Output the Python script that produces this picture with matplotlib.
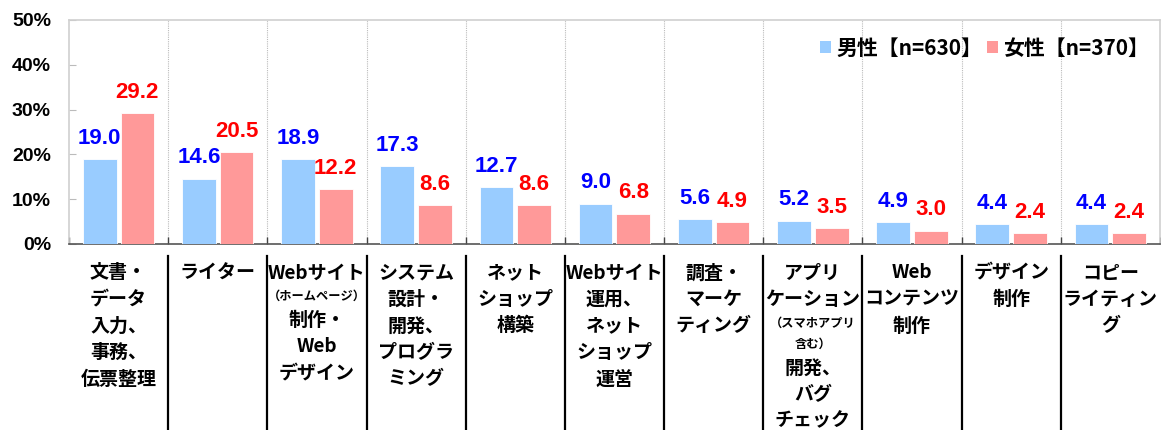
import numpy as np
import matplotlib
matplotlib.use("Agg")
import matplotlib.pyplot as plt
import matplotlib.transforms as mtransforms
from matplotlib.patches import Patch

plt.rcParams['font.family'] = ['Noto Sans CJK JP', 'DejaVu Sans']
plt.rcParams['font.weight'] = 'bold'

# category labels: each line is (text, small?)
categories = [
    [("文書・", 0), ("データ", 0), ("入力、", 0), ("事務、", 0), ("伝票整理", 0)],
    [("ライター", 0)],
    [("Webサイト", 0), ("（ホームページ）", 1), ("制作・", 0), ("Web", 0), ("デザイン", 0)],
    [("システム", 0), ("設計・", 0), ("開発、", 0), ("プログラ", 0), ("ミング", 0)],
    [("ネット", 0), ("ショップ", 0), ("構築", 0)],
    [("Webサイト", 0), ("運用、", 0), ("ネット", 0), ("ショップ", 0), ("運営", 0)],
    [("調査・", 0), ("マーケ", 0), ("ティング", 0)],
    [("アプリ", 0), ("ケーション", 0), ("（スマホアプリ", 1), ("含む）", 1),
     ("開発、", 0), ("バグ", 0), ("チェック", 0)],
    [("Web", 0), ("コンテンツ", 0), ("制作", 0)],
    [("デザイン", 0), ("制作", 0)],
    [("コピー", 0), ("ライティン", 0), ("グ", 0)],
]
male = [19.0, 14.6, 18.9, 17.3, 12.7, 9.0, 5.6, 5.2, 4.9, 4.4, 4.4]
female = [29.2, 20.5, 12.2, 8.6, 8.6, 6.8, 4.9, 3.5, 3.0, 2.4, 2.4]
male_label = "男性【n=630】"
female_label = "女性【n=370】"
yticks = [0, 10, 20, 30, 40, 50]

c_male, c_female = '#99CCFF', '#FF9999'
num_font = 'Liberation Sans'

fig = plt.figure(figsize=(11.61, 4.30), dpi=100)
ax = fig.add_axes([0.0594, 0.4326, 0.9397, 0.5209])

n = len(male)
x = np.arange(n)
w = 0.34
ax.bar(x - 0.19, male, w, color=c_male, edgecolor='white', linewidth=0.6, zorder=3)
ax.bar(x + 0.19, female, w, color=c_female, edgecolor='white', linewidth=0.6, zorder=3)

for i in range(n):
    ax.annotate(f"{male[i]:.1f}", (x[i] - 0.19, male[i]), xytext=(0, 11),
                textcoords='offset points', ha='center', va='baseline',
                color='#0000FF', fontsize=16, fontweight='bold', family=num_font)
    ax.annotate(f"{female[i]:.1f}", (x[i] + 0.19, female[i]), xytext=(0, 11),
                textcoords='offset points', ha='center', va='baseline',
                color='#FF0000', fontsize=16, fontweight='bold', family=num_font)

ax.set_xlim(-0.5, n - 0.5)
ax.set_ylim(0, 50)
ax.set_yticks(yticks)
ax.set_yticklabels([f"{t}%" for t in yticks], fontsize=14, fontweight='bold', family=num_font)
ax.tick_params(axis='y', direction='in', length=5, color='#BBBBBB', pad=13)
ax.set_xticks(np.arange(n + 1) - 0.5)
ax.set_xticklabels([])
ax.tick_params(axis='x', direction='in', length=5, color='#444444', width=1)

for s in ['top', 'right', 'left']:
    ax.spines[s].set_color('#D0D0D0')
    ax.spines[s].set_linewidth(1.2)
ax.spines['bottom'].set_color('#555555')
ax.spines['bottom'].set_linewidth(1.2)

for b in np.arange(1, n) - 0.5:
    ax.axvline(b, color='#BBBBBB', linestyle=(0, (1, 1)), linewidth=0.8, zorder=1)

# separators and labels below the axis
trans = mtransforms.blended_transform_factory(ax.transData, ax.transAxes)
for b in np.arange(1, n) - 0.5:
    ax.plot([b, b], [-0.054, -0.84], transform=trans, color='black',
            linewidth=1.6, clip_on=False)

h_norm, h_small = 26.5, 21
for i, lines in enumerate(categories):
    y = -29
    prev = None
    for text, small in lines:
        h = h_small if small else h_norm
        if prev is not None:
            y -= (prev + h) / 2
        ax.annotate(text, (i, 0), xycoords=trans, xytext=(0, y * 0.72),
                    textcoords='offset points', ha='center', va='center',
                    fontsize=8.8 if small else 13.7, fontweight='bold', color='black')
        prev = h

handles = [Patch(facecolor=c_male, edgecolor='none'), Patch(facecolor=c_female, edgecolor='none')]
leg = ax.legend(handles, [male_label, female_label], loc='center right',
                bbox_to_anchor=(0.99, 0.875), ncol=2, frameon=False,
                handlelength=0.55, handleheight=0.55, handletextpad=0.25,
                columnspacing=0.2, borderpad=0, borderaxespad=0,
                prop={'family': 'Noto Sans CJK JP', 'weight': 'bold', 'size': 15})

fig.savefig('out.png', dpi=100)
